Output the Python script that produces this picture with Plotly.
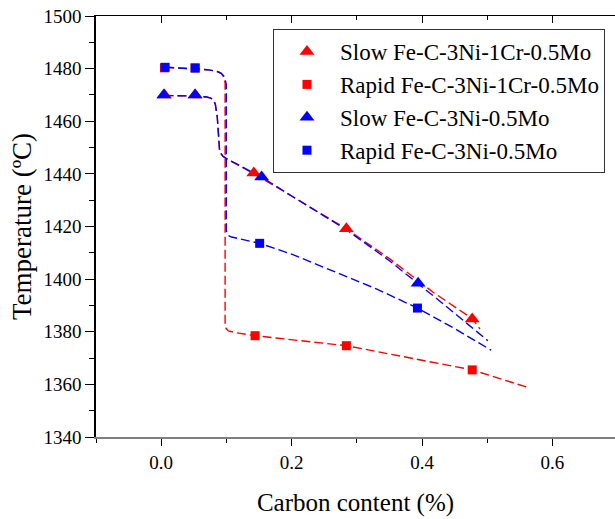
import plotly.graph_objects as go

# ---------------- data ----------------
# measured points (markers)
slow_1cr_x = [0.005, 0.052, 0.142, 0.284, 0.477]
slow_1cr_y = [1470.0, 1470.0, 1440.3, 1419.1, 1384.8]
rapid_1cr_x = [0.005, 0.052, 0.144, 0.284, 0.477]
rapid_1cr_y = [1480.3, 1480.3, 1378.5, 1374.7, 1365.5]
slow_3ni_x = [0.004, 0.052, 0.154, 0.394]
slow_3ni_y = [1470.0, 1470.0, 1438.8, 1398.4]
rapid_3ni_x = [0.006, 0.052, 0.151, 0.393]
rapid_3ni_y = [1480.5, 1480.2, 1413.6, 1389.0]

# calculated curves (dashed lines)
slow_1cr_cx = [0.005, 0.05, 0.07, 0.076, 0.08, 0.083, 0.086, 0.0895, 0.092, 0.0946, 0.1,
               0.14, 0.2, 0.284, 0.35, 0.417, 0.477, 0.489]
slow_1cr_cy = [1469.8, 1469.6, 1469.2, 1468.8, 1468.0, 1466.5, 1461.6, 1449.0, 1447.6, 1446.7, 1445.8,
               1440.3, 1431.6, 1419.1, 1407.8, 1395.0, 1385.0, 1381.0]
slow_3ni_cx = [0.005, 0.05, 0.07, 0.076, 0.08, 0.083, 0.086, 0.0895, 0.092, 0.0946, 0.1,
               0.154, 0.2, 0.284, 0.35, 0.394, 0.42, 0.501]
slow_3ni_cy = [1469.8, 1469.6, 1469.2, 1468.8, 1468.0, 1466.5, 1461.6, 1449.0, 1447.6, 1446.7, 1445.8,
               1438.8, 1431.6, 1418.8, 1407.0, 1398.4, 1393.1, 1376.6]
rapid_1cr_cx = [0.006, 0.052, 0.07, 0.08, 0.087, 0.092, 0.095, 0.097, 0.098, 0.098, 0.0995,
                0.103, 0.108, 0.115, 0.144, 0.2, 0.284, 0.33, 0.391, 0.477, 0.56]
rapid_1cr_cy = [1480.5, 1480.0, 1479.6, 1479.2, 1478.8, 1478.2, 1477.2, 1476.0, 1474.5, 1383.0, 1381.2,
                1380.3, 1379.9, 1379.6, 1378.5, 1377.0, 1374.7, 1372.5, 1369.6, 1365.5, 1359.0]
rapid_3ni_cx = [0.006, 0.052, 0.07, 0.08, 0.087, 0.092, 0.096, 0.098, 0.0998, 0.0998, 0.101,
                0.104, 0.108, 0.151, 0.2, 0.274, 0.33, 0.393, 0.45, 0.506]
rapid_3ni_cy = [1480.5, 1480.0, 1479.6, 1479.2, 1478.8, 1478.2, 1477.2, 1476.0, 1474.0, 1418.5, 1417.2,
                1416.4, 1416.0, 1413.6, 1409.5, 1402.0, 1396.3, 1389.0, 1381.2, 1373.0]

x_range = [-0.1, 0.696]
y_range = [1340, 1500]

RED = "#FF0000"
BLUE = "#0000FF"
FONT = "Liberation Serif"
DASH = "9px,4px"

fig = go.Figure()

# curves
for cx, cy, col in [(slow_1cr_cx, slow_1cr_cy, RED), (rapid_1cr_cx, rapid_1cr_cy, RED),
                    (slow_3ni_cx, slow_3ni_cy, BLUE), (rapid_3ni_cx, rapid_3ni_cy, BLUE)]:
    fig.add_trace(go.Scatter(x=cx, y=cy, mode="lines", showlegend=False, hoverinfo="skip",
                             line=dict(color=col, width=1.4, dash=DASH)))

# markers
fig.add_trace(go.Scatter(x=slow_1cr_x, y=slow_1cr_y, mode="markers", name="Slow Fe-C-3Ni-1Cr-0.5Mo",
                         marker=dict(symbol="triangle-up", size=13, color=RED)))
fig.add_trace(go.Scatter(x=rapid_1cr_x, y=rapid_1cr_y, mode="markers", name="Rapid Fe-C-3Ni-1Cr-0.5Mo",
                         marker=dict(symbol="square", size=9, color=RED)))
fig.add_trace(go.Scatter(x=slow_3ni_x, y=slow_3ni_y, mode="markers", name="Slow Fe-C-3Ni-0.5Mo",
                         marker=dict(symbol="triangle-up", size=13, color=BLUE)))
fig.add_trace(go.Scatter(x=rapid_3ni_x, y=rapid_3ni_y, mode="markers", name="Rapid Fe-C-3Ni-0.5Mo",
                         marker=dict(symbol="square", size=9, color=BLUE)))

# invisible trace to hold the top axis
fig.add_trace(go.Scatter(x=[0], y=[1400], xaxis="x2", mode="markers", showlegend=False,
                         hoverinfo="skip", marker=dict(opacity=0)))

# legend drop shadow (paper coords, offset ~2px right/down)
fig.add_shape(type="rect", xref="paper", yref="paper",
              x0=0.3487, x1=0.9807, y0=0.634, y1=0.962,
              fillcolor="#a0a0a0", line=dict(width=0), layer="above")

fig.update_layout(
    width=615, height=519,
    margin=dict(l=96, r=0, t=16, b=82),
    paper_bgcolor="white", plot_bgcolor="white",
    font=dict(family=FONT, color="black", size=19),
    xaxis=dict(range=x_range, tick0=0, dtick=0.2, tickformat=".1f",
               showgrid=False, zeroline=False,
               showline=True, linecolor="#7f7f7f", linewidth=1.5,
               ticks="outside", ticklen=7, tickwidth=1.3, tickcolor="black",
               minor=dict(dtick=0.1, ticks="outside", ticklen=4, tickwidth=1.3, tickcolor="black"),
               tickfont=dict(family=FONT, size=19),
               title=dict(text="Carbon content (%)", font=dict(family=FONT, size=25), standoff=22)),
    xaxis2=dict(range=x_range, overlaying="x", side="top", anchor="y", tick0=0, dtick=0.2,
                showgrid=False, zeroline=False, showticklabels=False,
                showline=True, linecolor="black", linewidth=1.3,
                ticks="inside", ticklen=7, tickwidth=1.3, tickcolor="black",
                minor=dict(dtick=0.1, ticks="inside", ticklen=4, tickwidth=1.3, tickcolor="black")),
    yaxis=dict(range=y_range, tick0=1340, dtick=20,
               showgrid=False, zeroline=False,
               showline=True, linecolor="black", linewidth=1.5,
               ticks="outside", ticklen=9, tickwidth=1.3, tickcolor="black",
               minor=dict(dtick=10, ticks="outside", ticklen=5, tickwidth=1.3, tickcolor="black"),
               tickfont=dict(family=FONT, size=19),
               title=dict(text="Temperature (ºC)", font=dict(family=FONT, size=27), standoff=4)),
    legend=dict(x=0.341, y=0.969, xanchor="left", yanchor="top",
                bgcolor="white", bordercolor="#333333", borderwidth=1,
                itemwidth=56,
                font=dict(family=FONT, size=23)),
)

fig.write_html("out.html")
